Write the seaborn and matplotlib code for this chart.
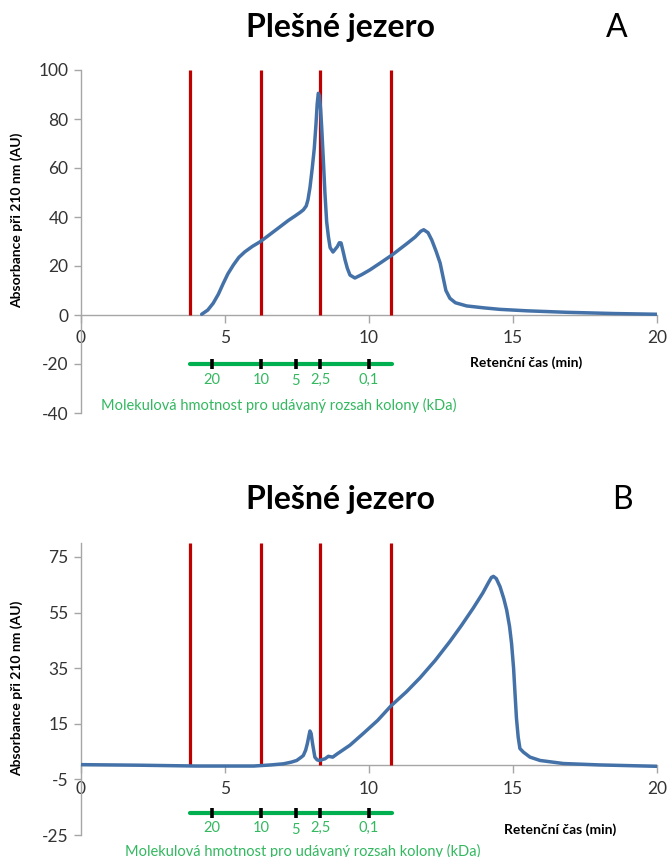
import matplotlib
matplotlib.use("Agg")
import matplotlib.pyplot as plt
import seaborn as sns
import pandas as pd

# ---- data ----
time_A = [4.19, 4.40, 4.59, 4.77, 4.94, 5.10, 5.29, 5.48, 5.69, 5.95, 6.22, 6.55, 6.91, 7.20,
          7.43, 7.60, 7.72, 7.82, 7.88, 7.95, 8.03, 8.10, 8.16, 8.20, 8.24, 8.28, 8.32, 8.36,
          8.42, 8.47, 8.53, 8.59, 8.65, 8.75, 8.90, 8.97, 9.03, 9.10, 9.17, 9.25, 9.34, 9.51,
          9.75, 10.03, 10.40, 10.80, 11.30, 11.60, 11.80, 11.90, 12.05, 12.18, 12.33, 12.47,
          12.58, 12.67, 12.81, 13.00, 13.39, 14.00, 14.55, 15.50, 16.86, 18.50, 20.00]
abs_A = [0.3, 2.0, 4.8, 8.5, 12.9, 16.8, 20.4, 23.5, 25.8, 28.0, 29.9, 32.8, 36.0, 38.6,
         40.4, 41.8, 42.9, 44.5, 47.0, 52.0, 60.0, 68.0, 78.0, 86.0, 90.5, 89.5, 84.0, 76.0,
         62.0, 49.7, 38.0, 32.0, 27.5, 25.7, 27.9, 29.5, 29.4, 26.0, 22.4, 19.0, 16.3, 15.1,
         16.5, 18.4, 21.3, 24.5, 29.0, 31.8, 34.2, 34.8, 33.6, 30.6, 26.0, 21.2,
         15.0, 10.0, 6.8, 5.0, 3.7, 2.9, 2.3, 1.7, 1.1, 0.6, 0.3]

time_B = [0.0, 2.0, 4.0, 6.0, 6.6, 7.03, 7.30, 7.49, 7.65, 7.72, 7.80, 7.86, 7.92, 7.95, 7.99,
          8.04, 8.12, 8.20, 8.28, 8.40, 8.47, 8.59, 8.74, 8.90, 9.34, 9.80, 10.30, 10.76,
          11.30, 11.77, 12.30, 12.81, 13.20, 13.62, 13.95, 14.15, 14.25, 14.32, 14.42, 14.55,
          14.68, 14.78, 14.88, 14.95, 15.02, 15.07, 15.12, 15.18, 15.24, 15.36, 15.59, 15.94,
          16.75, 18.00, 20.00]
abs_B = [0.3, 0.1, -0.2, -0.2, 0.2, 0.6, 1.2, 1.8, 3.0, 3.6, 5.5, 7.9, 11.0, 12.4, 11.5,
         7.9, 3.0, 2.0, 1.8, 2.2, 2.4, 3.3, 3.0, 4.2, 7.3, 11.5, 16.2, 21.4,
         26.5, 31.5, 37.8, 44.6, 50.2, 56.6, 62.0, 65.8, 67.6, 68.0, 67.2, 64.3,
         60.0, 55.9, 50.0, 43.9, 35.0, 25.9, 17.0, 10.2, 6.1, 4.8, 3.0, 1.8,
         0.7, 0.2, -0.3]

red_lines = [3.78, 6.25, 8.30, 10.78]
mw_positions = [4.55, 6.25, 7.45, 8.30, 10.0]
mw_labels = ["20", "10", "5", "2,5", "0,1"]
mw_range = [3.78, 10.8]

x_ticks = [0, 5, 10, 15, 20]
yticks_A = [-40, -20, 0, 20, 40, 60, 80, 100]
yticks_B = [-25, -5, 15, 35, 55, 75]

title = "Plešné jezero"
xlabel = "Retenční čas (min)"
ylabel = "Absorbance při 210 nm (AU)"
mw_text = "Molekulová hmotnost pro udávaný rozsah kolony (kDa)"

# ---- style ----
sns.set_theme(style="white")
plt.rcParams['font.family'] = ['Lato', 'DejaVu Sans']
plt.rcParams['axes.unicode_minus'] = False

W, H = 667, 857
fig = plt.figure(figsize=(W / 100, H / 100), dpi=100)

BLUE = "#4472A8"
RED = "#C00000"
GREEN = "#00B050"
GTEXT = "#33B860"
AXC = "#A6A6A6"
TXT = "#333333"


def px(x, y):
    return x / W, 1 - y / H


def setup(ax, ylim, yticks):
    ax.set_xlim(0, 20)
    ax.set_ylim(*ylim)
    ax.set_xticks(x_ticks)
    ax.set_yticks(yticks)
    for s in ["top", "right"]:
        ax.spines[s].set_visible(False)
    ax.spines["bottom"].set_position(("data", 0))
    ax.spines["bottom"].set_color(AXC)
    ax.spines["left"].set_color(AXC)
    ax.spines["bottom"].set_linewidth(1.0)
    ax.spines["left"].set_linewidth(1.0)
    ax.tick_params(axis="x", direction="out", length=6, width=1, color=AXC,
                   labelsize=12.5, labelcolor=TXT, pad=5, bottom=True)
    ax.tick_params(axis="y", direction="out", length=5, width=1, color=AXC,
                   labelsize=12.5, labelcolor=TXT, pad=4, left=True)
    ax.set_xlabel("")
    ax.set_ylabel("")
    ax.grid(False)
    ax.patch.set_alpha(0)


def draw(ax, t, a, ytop, mw_y, lab_y, text_y, text_x, ylim, yticks):
    df = pd.DataFrame({"t": t, "a": a})
    ax.vlines(red_lines, 0, ytop, colors=RED, linewidth=2.3, zorder=3)
    sns.lineplot(data=df, x="t", y="a", ax=ax, color=BLUE, linewidth=2.5,
                 estimator=None, sort=False, zorder=4)
    ax.plot(mw_range, [mw_y, mw_y], color=GREEN, linewidth=3, solid_capstyle="round",
            clip_on=False, zorder=3)
    ax.plot(mw_positions, [mw_y] * len(mw_positions), linestyle="", marker="|",
            markersize=7, markeredgewidth=2.6, color="black", clip_on=False, zorder=4)
    for p, l in zip(mw_positions, mw_labels):
        dy = 0.6 if l == "5" else 0
        ax.text(p, lab_y - dy, l, color=GTEXT, fontsize=10.5, ha="center", va="center",
                clip_on=False)
    ax.text(text_x, text_y, mw_text, color=GTEXT, fontsize=10.5, ha="center", va="center",
            clip_on=False)
    setup(ax, ylim, yticks)


# Chart A
axA = fig.add_axes([81 / W, 1 - 413 / H, 576 / W, 343 / H])
draw(axA, time_A, abs_A, 100, -20, -26.5, -37, 6.88, (-40, 100), yticks_A)
# Chart B
axB = fig.add_axes([81 / W, 1 - 835 / H, 576 / W, 292 / H])
draw(axB, time_B, abs_B, 80, -17.1, -22.6, -30.8, 7.7, (-25, 80), yticks_B)

# Titles & labels
for (ty, letter, lx) in [(28, "A", 617), (500, "B", 622)]:
    fig.text(*px(340, ty), title, fontsize=23, fontweight="bold", ha="center",
             va="center", color="black")
    fig.text(*px(lx, ty), letter, fontsize=23, ha="center", va="center", color="black")

fig.text(*px(526, 363), xlabel, fontsize=10, fontweight="bold", ha="center", va="center",
         color="black")
fig.text(*px(560, 830), xlabel, fontsize=10, fontweight="bold", ha="center", va="center",
         color="black")
fig.text(*px(17, 220), ylabel, fontsize=10, fontweight="bold", rotation=90,
         ha="center", va="center", color="black")
fig.text(*px(17, 688), ylabel, fontsize=10, fontweight="bold", rotation=90,
         ha="center", va="center", color="black")

fig.savefig("out.png", dpi=100)
